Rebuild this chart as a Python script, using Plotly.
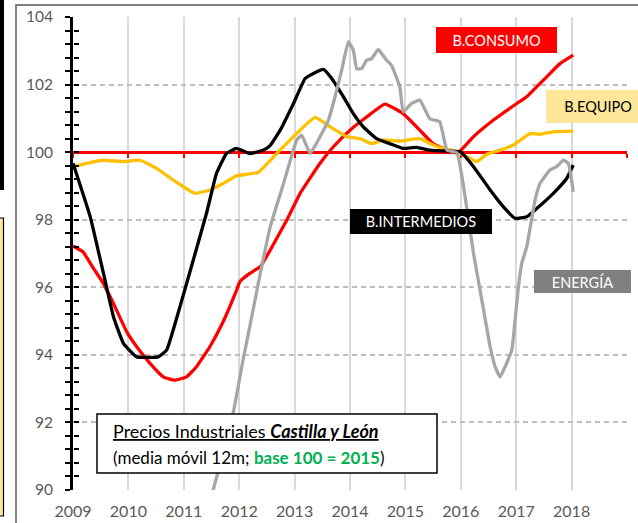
import plotly.graph_objects as go

# ---------------- data ----------------
years_ticks = [2009, 2010, 2011, 2012, 2013, 2014, 2015, 2016, 2017, 2018, 2019]
tick_text = ["2009", "2010", "2011", "2012", "2013", "2014", "2015", "2016", "2017", "2018", ""]

consumo_x = [2009.0, 2009.18, 2009.37, 2009.55, 2009.73, 2009.97, 2010.15, 2010.39, 2010.63, 2010.84,
             2011.05, 2011.23, 2011.47, 2011.71, 2011.95, 2012.01, 2012.19, 2012.38, 2012.56, 2012.86,
             2013.10, 2013.46, 2013.70, 2014.00, 2014.30, 2014.63, 2014.96, 2015.26, 2015.50, 2015.75,
             2015.95, 2016.23, 2016.59, 2017.01, 2017.19, 2017.55, 2017.79, 2018.03]
consumo_y = [97.22, 97.05, 96.56, 96.11, 95.52, 94.68, 94.24, 93.75, 93.35, 93.25,
             93.35, 93.65, 94.24, 94.98, 95.90, 96.16, 96.41, 96.61, 97.10, 97.99,
             98.78, 99.67, 100.16, 100.65, 101.04, 101.42, 101.14, 100.65, 100.25, 100.06,
             99.98, 100.46, 100.95, 101.44, 101.64, 102.23, 102.62, 102.87]

equipo_x = [2009.0, 2009.25, 2009.55, 2009.91, 2010.21, 2010.51, 2010.81, 2011.20, 2011.47, 2011.71,
            2011.95, 2012.34, 2012.68, 2012.98, 2013.37, 2013.64, 2013.94, 2014.18, 2014.39, 2014.60,
            2014.90, 2015.26, 2015.50, 2015.68, 2015.95, 2016.11, 2016.29, 2016.47, 2016.71, 2016.95,
            2017.25, 2017.43, 2017.67, 2018.03]
equipo_y = [99.57, 99.67, 99.76, 99.72, 99.76, 99.52, 99.17, 98.78, 98.88, 99.07,
            99.30, 99.40, 99.96, 100.46, 101.03, 100.75, 100.46, 100.40, 100.25, 100.36,
            100.33, 100.40, 100.21, 100.11, 100.01, 99.86, 99.72, 99.94, 100.06, 100.21,
            100.55, 100.53, 100.60, 100.62]

intermedios_x = [2009.0, 2009.31, 2009.55, 2009.73, 2009.91, 2010.15, 2010.54, 2010.69, 2010.93, 2011.17,
                 2011.41, 2011.59, 2011.77, 2011.95, 2012.19, 2012.44, 2012.56, 2012.74, 2012.98, 2013.19,
                 2013.34, 2013.52, 2013.67, 2013.88, 2014.06, 2014.24, 2014.48, 2014.72, 2014.96, 2015.20,
                 2015.44, 2015.62, 2015.99, 2016.23, 2016.53, 2016.77, 2016.98, 2017.19, 2017.37, 2017.67,
                 2017.91, 2018.03]
intermedios_y = [99.67, 98.09, 96.41, 95.13, 94.34, 93.94, 93.94, 94.14, 95.42, 96.80,
                 98.19, 99.37, 99.96, 100.11, 99.96, 100.06, 100.20, 100.65, 101.44, 102.18,
                 102.33, 102.45, 102.18, 101.64, 101.14, 100.75, 100.40, 100.25, 100.11, 100.14,
                 100.06, 100.04, 100.01, 99.57, 98.88, 98.38, 98.04, 98.09, 98.33, 98.78,
                 99.22, 99.62]

energia_x = [2011.45, 2011.53, 2011.89, 2012.07, 2012.19, 2012.38, 2012.56, 2012.80, 2013.04, 2013.13,
             2013.28, 2013.46, 2013.61, 2013.73, 2013.85, 2013.97, 2014.06, 2014.12, 2014.21, 2014.30,
             2014.39, 2014.51, 2014.57, 2014.66, 2014.75, 2014.90, 2014.96, 2015.11, 2015.26, 2015.44,
             2015.62, 2015.75, 2015.93, 2016.05, 2016.23, 2016.38, 2016.53, 2016.62, 2016.71, 2016.92,
             2016.98, 2017.04, 2017.10, 2017.19, 2017.34, 2017.43, 2017.61, 2017.73, 2017.85, 2017.94,
             2018.03]
energia_y = [89.55, 90.00, 92.27, 93.85, 94.83, 96.41, 97.79, 99.07, 100.36, 100.50,
             99.96, 100.46, 100.95, 101.64, 102.43, 103.26, 103.02, 102.47, 102.47, 102.72,
             102.77, 103.04, 102.92, 102.72, 102.57, 101.93, 101.19, 101.44, 101.54, 100.99,
             100.90, 100.06, 99.98, 98.98, 97.00, 95.62, 94.24, 93.65, 93.35, 94.14,
             95.03, 96.01, 96.71, 97.20, 98.58, 99.07, 99.47, 99.57, 99.76, 99.67,
             98.83]

BASE = 100
Y_RANGE = [90, 104]
X_RANGE = [2009, 2019]

FONT = "Lato"
W, H = 638, 523
ML, MR, MT, MB = 73, 11, 17, 33
PW, PH = W - ML - MR, H - MT - MB


def px(xp):
    return (xp - ML) / PW


def py(yp):
    return (H - MB - yp) / PH


fig = go.Figure()
line_w = 3.3
smooth = dict(shape="spline", smoothing=0.35)
fig.add_trace(go.Scatter(x=consumo_x, y=consumo_y, mode="lines", name="B.CONSUMO",
                         line=dict(color="#FF0000", width=line_w, **smooth)))
fig.add_trace(go.Scatter(x=equipo_x, y=equipo_y, mode="lines", name="B.EQUIPO",
                         line=dict(color="#FFC000", width=line_w, **smooth)))
fig.add_trace(go.Scatter(x=intermedios_x, y=intermedios_y, mode="lines", name="B.INTERMEDIOS",
                         line=dict(color="#000000", width=line_w, **smooth)))
fig.add_trace(go.Scatter(x=energia_x, y=energia_y, mode="lines", name="ENERGÍA",
                         xaxis="x2", yaxis="y2",
                         line=dict(color="#A6A6A6", width=line_w, **smooth)))

tick_col = "#595959"
fig.update_layout(
    width=W, height=H, autosize=False,
    margin=dict(l=ML, r=MR, t=MT, b=MB, pad=0),
    paper_bgcolor="white", plot_bgcolor="white",
    showlegend=False,
    font=dict(family=FONT, color=tick_col),
    xaxis=dict(range=X_RANGE, tickmode="array", tickvals=years_ticks, ticktext=tick_text,
               automargin=False,
               showgrid=True, gridcolor="#D9D9D9", gridwidth=1.6,
               showline=False, zeroline=False, ticks="",
               tickfont=dict(size=16, color=tick_col, family=FONT), ticklabelstandoff=10),
    yaxis=dict(range=Y_RANGE, tick0=90, dtick=2, showgrid=True, gridcolor="#BFBFBF",
               automargin=False,
               gridwidth=1.5, griddash="5px,4px", zeroline=False,
               showline=True, linecolor="black", linewidth=3,
               ticks="outside", ticklen=5, tickwidth=2, tickcolor="black",
               minor=dict(tick0=90, dtick=0.4, ticks="outside", ticklen=5, tickwidth=2,
                          tickcolor="black", showgrid=False),
               tickfont=dict(size=15.5, color=tick_col, family=FONT), ticklabelstandoff=9),
    xaxis2=dict(range=X_RANGE, overlaying="x", anchor="free", automargin=False,
                position=(BASE - Y_RANGE[0]) / (Y_RANGE[1] - Y_RANGE[0]),
                side="bottom", tick0=2009, dtick=1, showgrid=False, zeroline=False,
                showline=True, linecolor="#FF0000", linewidth=2.5,
                ticks="outside", ticklen=4, tickwidth=2, tickcolor="#FF0000",
                showticklabels=False, layer="below traces"),
    yaxis2=dict(range=Y_RANGE, overlaying="y", anchor="free", position=0, side="left",
                automargin=False,
                tick0=90, dtick=2, showgrid=False, zeroline=False, showline=False,
                ticks="inside", ticklen=5, tickwidth=2, tickcolor="black",
                minor=dict(tick0=90, dtick=0.4, ticks="inside", ticklen=5, tickwidth=2,
                           tickcolor="black", showgrid=False),
                showticklabels=False),
)

# decorative frame / page artefacts
shapes = [
    dict(type="rect", xref="paper", yref="paper", x0=px(16), x1=px(700), y0=py(600), y1=py(5),
         line=dict(color="#595959", width=1.5), fillcolor="rgba(0,0,0,0)", layer="below"),
    dict(type="rect", xref="paper", yref="paper", x0=px(-5), x1=px(4), y0=py(190), y1=py(-5),
         line=dict(width=0), fillcolor="black"),
    dict(type="rect", xref="paper", yref="paper", x0=px(-5), x1=px(3.5), y0=py(516), y1=py(218),
         line=dict(color="black", width=1.2), fillcolor="#FFE699"),
    # subtitle box
    dict(type="rect", xref="paper", yref="paper", x0=px(97), x1=px(437), y0=py(473), y1=py(414),
         line=dict(color="black", width=1.5), fillcolor="white"),
]
fig.update_layout(shapes=shapes)


def label(text, x0, x1, y0, y1, bg, fg, xtext=None):
    cx = (x0 + x1) / 2 if xtext is None else xtext
    return dict(xref="paper", yref="paper", x=px(cx), y=py((y0 + y1) / 2),
                xanchor="center", yanchor="middle", showarrow=False,
                text=text, font=dict(family=FONT, size=14.5, color=fg),
                width=x1 - x0, height=y1 - y0, bgcolor=bg, borderpad=0, borderwidth=0)


annotations = [
    label("B.CONSUMO", 436, 557, 27, 53, "#FF0000", "white"),
    label("B.EQUIPO", 546, 650, 90, 123, "#FFE699", "black"),
    label("B.INTERMEDIOS", 350, 492, 209, 234, "#000000", "white"),
    label("ENERGÍA", 534, 631, 270, 293, "#808080", "white"),
    dict(xref="paper", yref="paper", x=px(111), y=py(431), xanchor="left", yanchor="middle",
         showarrow=False, align="left",
         text="<u>Precios Industriales <b><i>Castilla y León</i></b></u>",
         font=dict(family=FONT, size=18, color="black")),
    dict(xref="paper", yref="paper", x=px(111), y=py(457), xanchor="left", yanchor="middle",
         showarrow=False, align="left",
         text="(media móvil 12m; <b><span style='color:#00B050'>base 100 = 2015</span></b>)",
         font=dict(family=FONT, size=17, color="black")),
]
fig.update_layout(annotations=annotations)

fig.write_html("out.html", config={"displayModeBar": False},
               post_script="document.body.style.margin='0';document.body.style.overflow='hidden';")
